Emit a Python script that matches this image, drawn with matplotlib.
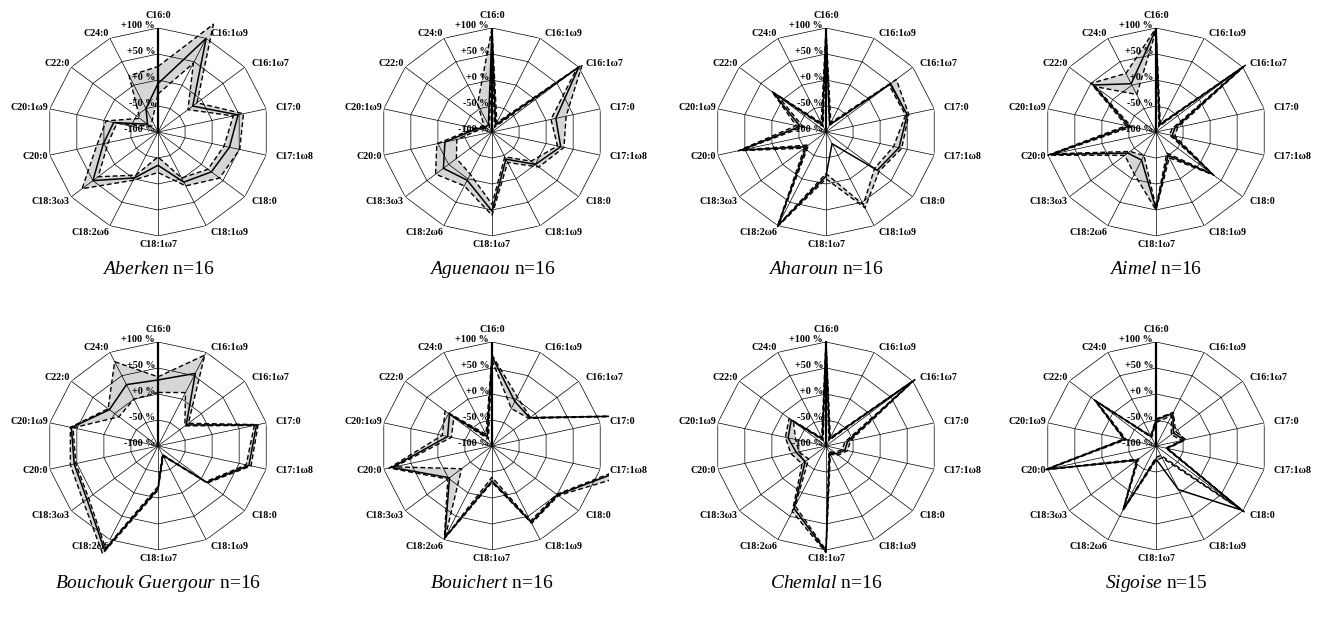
import numpy as np
import matplotlib
matplotlib.use('Agg')
import matplotlib.pyplot as plt
from matplotlib.patches import Rectangle

plt.rcParams['font.family'] = ['Liberation Serif', 'DejaVu Serif']
plt.rcParams['mathtext.fontset'] = 'custom'
plt.rcParams['mathtext.it'] = 'Liberation Serif:italic'
plt.rcParams['mathtext.rm'] = 'Liberation Serif'

categories = ['C16:0', 'C16:1ω9', 'C16:1ω7', 'C17:0', 'C17:1ω8', 'C18:0', 'C18:1ω9',
              'C18:1ω7', 'C18:2ω6', 'C18:3ω3', 'C20:0', 'C20:1ω9', 'C22:0', 'C24:0']
ring_levels = [-50, 0, 50, 100]
tick_values = [-100, -50, 0, 50, 100]
tick_labels = ['-100 %', '-50 %', '+0 %', '+50 %', '+100 %']

cultivars = ['Aberken', 'Aguenaou', 'Aharoun', 'Aimel',
             'Bouchouk Guergour', 'Bouichert', 'Chemlal', 'Sigoise']
sample_sizes = [16, 16, 16, 16, 16, 16, 16, 15]

aberken_mean = [-7, 100, -20, 48, 32, 23, 7, -36, -2, 50, 1, -18, -76, -50]
aberken_up = [26, 130, -10, 58, 51, 42, 15, -22, 3, 75, 13, -4, -58, 20]
aberken_lo = [-27, 47, -31, 39, 22, 15, -2, -52, -8, 38, -8, -24, -83, -76]

aguenaou_mean = [95, -85, 100, 18, 27, 0, -42, 52, 3, 12, -13, -72, -85, -85]
aguenaou_up = [100, -80, 108, 37, 33, 8, -35, 60, 15, 30, 2, -68, -82, -40]
aguenaou_lo = [90, -90, 95, 9, 21, -10, -47, 39, -10, -18, -35, -78, -88, -90]

aharoun_mean = [95, -85, 48, 50, 35, 18, -75, -15, 100, -55, 58, -52, 22, -85]
aharoun_up = [98, -80, 62, 53, 40, 22, 62, -10, 103, -50, 62, -45, 25, -80]
aharoun_lo = [92, -85, 45, 47, 25, 12, 55, -20, 98, -60, 55, -58, 10, -88]

aimel_mean = [98, -85, 102, -65, -70, 30, -50, 48, -40, -35, 95, -50, 45, 3]
aimel_up = [100, -82, 106, -60, -65, 33, -45, 50, -10, -28, 100, -45, 50, 25]
aimel_lo = [95, -88, 98, -70, -75, 27, -55, 45, -50, -40, 88, -55, 40, -20]

bouchouk_mean = [27, 55, -35, 82, 68, 12, -80, -18, 122, 64, 55, 60, 12, 31]
bouchouk_up = [33, 94, -30, 85, 72, 14, -78, -15, 130, 72, 62, 62, 15, 80]
bouchouk_lo = [3, 14, -38, 78, 63, 10, -82, -22, 118, 60, 52, 57, -10, 0]

bouichert_mean = [72, -5, -13, 160, 130, 51, 63, -33, 96, -2, 85, -18, -2, -80]
bouichert_up = [75, 5, -12, 162, 150, 53, 65, -30, 98, 2, 90, -8, 8, -75]
bouichert_lo = [65, -20, -15, 158, 125, 49, 60, -40, 94, -30, 80, -25, -12, -85]

chemlal_mean = [100, -85, 102, -60, -65, -76, -85, 103, 33, -52, -45, -30, -20, -85]
chemlal_up = [102, -82, 105, -55, -60, -72, -82, 105, 40, -45, -35, -25, -15, -82]
chemlal_lo = [95, -88, 100, -65, -70, -80, -88, 100, 28, -60, -50, -44, -25, -88]

sigoise_mean = [-50, -30, -60, -48, -80, 98, -7, -75, 36, -57, 103, -42, 40, -80]
sigoise_up = [-48, -28, -55, -45, -78, 103, -75, -72, 38, -55, 106, -40, 42, -78]
sigoise_lo = [-55, -35, -65, -52, -82, 95, -80, -78, 34, -60, 100, -45, 36, -82]

means = [aberken_mean, aguenaou_mean, aharoun_mean, aimel_mean,
         bouchouk_mean, bouichert_mean, chemlal_mean, sigoise_mean]
uppers = [aberken_up, aguenaou_up, aharoun_up, aimel_up,
          bouchouk_up, bouichert_up, chemlal_up, sigoise_up]
lowers = [aberken_lo, aguenaou_lo, aharoun_lo, aimel_lo,
          bouchouk_lo, bouichert_lo, chemlal_lo, sigoise_lo]

W, H = 1326, 619
fig = plt.figure(figsize=(W / 100, H / 100), dpi=100)
centers_x = [158, 492, 826, 1156]
centers_y = [132, 446]
RX, RY = 111, 104
title_y = [270, 584]

n = len(categories)
theta = np.linspace(0, 2 * np.pi, n, endpoint=False)
tc = np.append(theta, theta[0])


def close(v):
    v = np.asarray(v, dtype=float)
    return np.append(v, v[0])


for i, name in enumerate(cultivars):
    cx = centers_x[i % 4]
    cy = centers_y[i // 4]
    ax = fig.add_axes([(cx - RX) / W, (H - cy - RY) / H, 2 * RX / W, 2 * RY / H],
                      projection='polar')
    ax.set_theta_zero_location('N')
    ax.set_theta_direction(-1)
    ax.set_ylim(-100, 100)
    ax.set_aspect('auto')
    ax.set_axis_off()

    clip = Rectangle((-0.025, -0.25), 1.05, 1.5, transform=ax.transAxes,
                     fill=False, visible=False)
    ax.add_patch(clip)

    # gray band between the dashed lines
    lo_c = close(lowers[i])
    up_c = close(uppers[i])
    th_poly = np.concatenate([tc, tc[::-1]])
    r_poly = np.concatenate([lo_c, up_c[::-1]])
    band = ax.fill(th_poly, r_poly, color='#d6d6d6', lw=0, zorder=1)
    for b in band:
        b.set_clip_path(clip)

    # polygon grid
    for lvl in ring_levels:
        ax.plot(tc, [lvl] * len(tc), color='black', lw=0.5, zorder=2)
    for t in theta:
        ax.plot([t, t], [-100, 100], color='black', lw=0.5, zorder=2)
    ax.plot([0, 0], [-100, 100], color='black', lw=1.6, zorder=3)

    # data lines
    for series in (uppers[i], lowers[i]):
        ln, = ax.plot(tc, close(series), color='black', lw=1.0,
                      ls=(0, (3.5, 2.0)), zorder=4)
        ln.set_clip_path(clip)
    ln, = ax.plot(tc, close(means[i]), color='black', lw=1.1, zorder=5)
    ln.set_clip_path(clip)

    # category labels
    for k, (t, lab) in enumerate(zip(theta, categories)):
        s, c = np.sin(t), np.cos(t)
        if abs(s) < 0.1:
            ha = 'center'
            dx = 0
            va = 'bottom' if c > 0 else 'top'
            dy = 6 if c > 0 else -3
        else:
            ha = 'left' if s > 0 else 'right'
            dx = 6.5 * s if s > 0 else 1.5 * s
            va = 'center'
            dy = 4 * c if c > 0 else 5.5 * c
        ax.annotate(lab, xy=(t, 100), xytext=(dx, dy), textcoords='offset points',
                    ha=ha, va=va, fontsize=7.2, fontweight='bold',
                    annotation_clip=False, zorder=10)

    # radial tick labels
    for v, lab in zip(tick_values, tick_labels):
        ax.annotate(lab, xy=(0, v), xytext=(-2, 2), textcoords='offset points',
                    ha='right', va='center', fontsize=7.3, fontweight='bold',
                    annotation_clip=False, zorder=10)

    title = r'$\mathit{' + name.replace(' ', r'\ ') + '}$' + ' n=%d' % sample_sizes[i]
    fig.text(cx / W, 1 - title_y[i // 4] / H, title, ha='center', va='center',
             fontsize=14)

fig.savefig('out.png', dpi=100)
